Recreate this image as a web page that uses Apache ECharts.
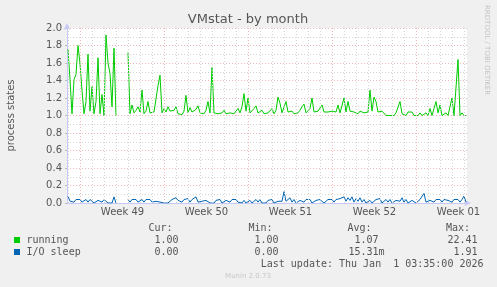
<!DOCTYPE html>
<html><head><meta charset="utf-8">
<script src="https://cdn.jsdelivr.net/npm/echarts@6/dist/echarts.min.js"></script>
<style>html,body{margin:0;padding:0;background:#f0f0f0}#c{width:497px;height:287px}</style>
</head><body><div id="c"></div>
<script>
const chartTitle = 'VMstat - by month';
const yAxisTitle = 'process states';
const watermark = 'RRDTOOL / TOBI OETIKER';
const footer = 'Munin 2.0.73';
const lastUpdate = 'Last update: Thu Jan  1 03:35:00 2026';
// sample times (hours from left edge of graph), 4-hour samples
const firstSampleHour = 2, sampleStepHours = 4;
const running = [
1.76,1.41,1.02,1.41,1.47,1.80,1.59,1.29,1.02,1.16,1.70,1.05,1.33,1.02,1.16,1.66,1.02,1.24,1.00,1.92,1.60,1.48,1.10,1.77,1.00,
null,null,null,null,null,
1.72,1.02,1.12,1.03,1.06,1.10,1.04,1.29,1.02,1.05,1.16,1.03,1.02,1.04,1.06,1.34,1.46,1.03,1.08,1.04,
1.10,1.05,1.03,1.06,1.10,1.02,1.04,1.01,1.05,1.23,1.03,1.09,1.04,1.02,1.07,1.11,1.03,1.05,1.02,1.06,
1.16,1.03,1.55,1.03,1.05,1.02,1.04,1.03,1.06,1.02,1.04,1.03,1.05,1.02,1.04,1.08,1.03,1.10,1.25,1.05,
1.20,1.03,1.05,1.08,1.11,1.03,1.04,1.06,1.02,1.04,1.03,1.05,1.08,1.02,1.06,1.21,1.14,1.03,1.05,1.16,
1.04,1.03,1.05,1.02,1.04,1.03,1.06,1.10,1.13,1.03,1.05,1.08,1.20,1.04,1.02,1.05,1.03,1.12,1.04,1.02,
1.04,1.03,1.05,1.07,1.04,1.12,1.03,1.05,1.20,1.04,1.16,1.05,1.03,1.04,1.06,1.02,1.05,1.07,1.03,1.05,
1.04,1.29,1.05,1.21,1.16,1.04,1.02,1.05,1.07,1.00,1.00,1.00,1.00,1.00,1.03,1.05,1.16,1.02,1.00,1.00,
1.04,1.04,1.04,1.00,1.00,1.00,1.03,1.00,1.00,1.03,1.00,1.08,1.00,1.00,1.16,1.03,1.12,1.00,1.00,1.03,
1.00,1.00,1.20,1.00,1.02,1.64,1.00,1.03,1.00,1.00
];
const ioSleep = [
0.08,0.02,0.04,0.01,0.04,0.02,0.04,0.01,0.03,0.04,0.01,0.04,0.02,0.00,0.00,0.03,0.04,0.01,0.04,0.03,0.00,0.00,0.00,0.07,0.00,
null,null,null,null,null,
0.04,0.01,0.04,0.02,0.04,0.01,0.03,0.04,0.01,0.04,0.02,0.04,0.01,0.03,0.02,0.04,0.01,0.00,0.00,0.00,
0.00,0.00,0.04,0.02,0.06,0.03,0.04,0.01,0.04,0.02,0.05,0.01,0.04,0.02,0.07,0.01,0.03,0.02,0.00,0.03,
0.01,0.00,0.00,0.00,0.03,0.01,0.04,0.00,0.00,0.03,0.04,0.01,0.04,0.02,0.04,0.01,0.00,0.00,0.03,0.00,
0.00,0.03,0.00,0.00,0.04,0.01,0.04,0.00,0.00,0.00,0.03,0.01,0.04,0.00,0.00,0.02,0.04,0.02,0.13,0.02,
0.04,0.06,0.01,0.04,0.00,0.00,0.03,0.04,0.01,0.04,0.02,0.04,0.00,0.00,0.03,0.01,0.04,0.02,0.00,0.00,
0.04,0.02,0.04,0.01,0.04,0.02,0.05,0.03,0.07,0.02,0.06,0.03,0.07,0.01,0.05,0.02,0.06,0.01,0.04,0.00,
0.00,0.03,0.00,0.00,0.04,0.02,0.05,0.00,0.00,0.04,0.01,0.04,0.00,0.00,0.03,0.05,0.02,0.06,0.01,0.04,
0.00,0.00,0.03,0.01,0.00,0.00,0.04,0.02,0.11,0.01,0.00,0.03,0.04,0.01,0.04,0.02,0.04,0.01,0.04,0.02,
0.03,0.04,0.01,0.04,0.02,0.04,0.01,0.04,0.08,0.01
];
const weekLabels = ['Week 49','Week 50','Week 51','Week 52','Week 01'];
const weekLabelHours = [111,279,447,615,783];
const weekLineHours = [27,195,363,531,699];
const firstDayLineHour = 3;
const yTickLabels = ['0.0','0.2','0.4','0.6','0.8','1.0','1.2','1.4','1.6','1.8','2.0'];
const seriesNames = ['running','I/O sleep'];
const seriesColors = ['#00cc00','#0066b3'];
const statHeaders = ['Cur:','Min:','Avg:','Max:'];
const statRunning = ['1.00 ','1.00 ','1.07 ','22.41 '];
const statIoSleep = ['0.00 ','0.00 ','15.31m','1.91 '];

const xMax = 800;
const toPairs = arr => arr.map((v,i)=>[firstSampleHour + i*sampleStepHours, v===null?'-':v]);
const dayLines = [];
for (let h = firstDayLineHour; h < xMax; h += 24) if (!weekLineHours.includes(h)) dayLines.push({xAxis:h});
const labelMap = {}; weekLabelHours.forEach((h,i)=>labelMap[h]=weekLabels[i]);

const txtColor = '#555';
const mono = '10px "DejaVu Sans Mono", monospace';
const graphic = [
 {type:'text', style:{text:chartTitle, x:248, y:20, textAlign:'center', textVerticalAlign:'middle', font:'13px "DejaVu Sans"', fill:txtColor}},
 {type:'text', rotation:-Math.PI/2, x:487, y:5, style:{text:watermark, x:0, y:0, textAlign:'left', textVerticalAlign:'middle', font:'7px "DejaVu Sans"', fill:'#c4c4c4'}},
 {type:'text', style:{text:footer, x:248, y:276, textAlign:'center', textVerticalAlign:'middle', font:'7px "DejaVu Sans"', fill:'#c8c8c8'}},
 {type:'rect', shape:{x:14, y:237, width:6, height:6}, style:{fill:seriesColors[0]}},
 {type:'rect', shape:{x:14, y:249, width:6, height:6}, style:{fill:seriesColors[1]}},
 {type:'text', style:{text:seriesNames[0], x:26.5, y:240, textVerticalAlign:'middle', font:mono, fill:txtColor}},
 {type:'text', style:{text:seriesNames[1], x:26.5, y:252, textVerticalAlign:'middle', font:mono, fill:txtColor}},
 {type:'text', style:{text:lastUpdate, x:483.5, y:264, textAlign:'right', textVerticalAlign:'middle', font:mono, fill:txtColor}}
];
const headX = [148.5,248.5,347.5,446];
const colRight = [184.5,284.5,384.5,483.5];
statHeaders.forEach((t,i)=>graphic.push({type:'text', style:{text:t, x:headX[i], y:228, textVerticalAlign:'middle', font:mono, fill:txtColor}}));
statRunning.forEach((t,i)=>graphic.push({type:'text', style:{text:t, x:colRight[i], y:240, textAlign:'right', textVerticalAlign:'middle', font:mono, fill:txtColor}}));
statIoSleep.forEach((t,i)=>graphic.push({type:'text', style:{text:t, x:colRight[i], y:252, textAlign:'right', textVerticalAlign:'middle', font:mono, fill:txtColor}}));

const chart = echarts.init(document.getElementById('c'), null, {renderer:'canvas'});
chart.setOption({
 animation:false,
 backgroundColor:'#f0f0f0',
 grid:{left:67, top:28, width:400, height:175, containLabel:false, outerBoundsMode:'none', backgroundColor:'#ffffff', show:true, borderWidth:0},
 xAxis:{type:'value', min:0, max:xMax,
   axisLine:{show:true, symbol:['none','arrow'], symbolSize:[5,7], symbolOffset:[0,4], lineStyle:{color:'#c8c8f8', width:1}},
   axisTick:{show:false},
   splitLine:{show:false},
   axisLabel:{customValues:weekLabelHours, formatter:v=>labelMap[v]||'', color:txtColor, fontSize:10, fontFamily:'DejaVu Sans', margin:4}
 },
 yAxis:{type:'value', min:0, max:2, interval:0.2,
   name:yAxisTitle, nameLocation:'middle', nameRotate:90, nameGap:51,
   nameTextStyle:{color:txtColor, fontSize:10, fontFamily:'DejaVu Sans'},
   axisLine:{show:true, symbol:['none','arrow'], symbolSize:[5,7], symbolOffset:[0,5], lineStyle:{color:'#c8c8f8', width:1}},
   axisTick:{show:true, length:2, lineStyle:{color:'#bbb'}},
   axisLabel:{formatter:v=>yTickLabels[Math.round(v/0.2)], color:txtColor, fontSize:10, fontFamily:'DejaVu Sans', margin:5},
   splitLine:{show:true, lineStyle:{color:'#f2b8b8', type:[1,2], width:1}},
   minorTick:{show:false, splitNumber:2},
   minorSplitLine:{show:true, lineStyle:{color:'#d4d4d4', type:[1,2], width:1}}
 },
 series:[
  {type:'line', name:'grid', data:[], z:1, silent:true,
   markLine:{silent:true, symbol:'none', label:{show:false}, animation:false,
     data:[...dayLines.map(d=>({...d, lineStyle:{color:'#d4d4d4', type:[1,2], width:1}})),
           ...weekLineHours.map(h=>({xAxis:h, lineStyle:{color:'#f2b8b8', type:[1,2], width:1}}))]}},
  {type:'line', name:seriesNames[0], data:toPairs(running), showSymbol:false, z:3, connectNulls:false,
   lineStyle:{color:seriesColors[0], width:1}, itemStyle:{color:seriesColors[0]}},
  {type:'line', name:seriesNames[1], data:toPairs(ioSleep), showSymbol:false, z:3, connectNulls:false,
   lineStyle:{color:seriesColors[1], width:1}, itemStyle:{color:seriesColors[1]}}
 ],
 graphic:graphic
});
</script>
</body></html>
